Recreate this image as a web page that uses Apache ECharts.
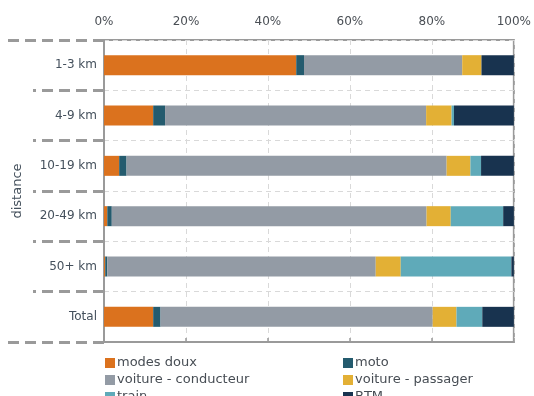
<!DOCTYPE html>
<html>
<head>
<meta charset="utf-8">
<script src="https://cdn.jsdelivr.net/npm/echarts@6/dist/echarts.min.js"></script>
<style>
  html, body { margin: 0; padding: 0; background: #fff; }
  #chart { width: 534px; height: 396px; }
</style>
</head>
<body>
<div id="chart"></div>
<script>
const categories = ['1-3 km', '4-9 km', '10-19 km', '20-49 km', '50+ km', 'Total'];
const modesDoux = [46.9, 12.0, 3.7, 0.8, 0.3, 12.0];
const moto = [1.9, 2.9, 1.8, 1.1, 0.5, 1.8];
const voitureConducteur = [38.6, 63.7, 78.1, 76.8, 65.5, 66.4];
const voiturePassager = [4.7, 6.2, 5.8, 5.9, 6.1, 5.8];
const train = [0, 0.6, 2.6, 12.8, 27.0, 6.3];
const btm = [7.9, 14.6, 8.0, 2.6, 0.6, 7.7];
const xTicks = [0, 20, 40, 60, 80, 100];

const font = 'DejaVu Sans';
const labelColor = '#44505c';
const axisGray = '#9a9a9a';

const mkSeries = (name, data, color) => ({
  type: 'bar',
  name: name,
  stack: 'total',
  data: data,
  barWidth: 20,
  itemStyle: { color: color },
  emphasis: { disabled: true }
});

const mkLegend = (left, names) => ({
  orient: 'vertical',
  left: left,
  top: 351,
  height: 80,
  itemWidth: 10,
  itemHeight: 10,
  itemGap: 3,
  icon: 'rect',
  textStyle: { fontFamily: font, fontSize: 13, color: '#474d54', lineHeight: 14, padding: [0, 0, 0, -3] },
  data: names
});

const chart = echarts.init(document.getElementById('chart'));
chart.setOption({
  animation: false,
  grid: {
    left: 104,
    right: 19,
    top: 40,
    bottom: 54,
    show: true,
    borderColor: axisGray,
    borderWidth: 2
  },
  legend: [
    mkLegend(100, ['modes doux', 'voiture - conducteur', 'train']),
    mkLegend(338, ['moto', 'voiture - passager', 'BTM'])
  ],
  xAxis: {
    type: 'value',
    position: 'top',
    min: xTicks[0],
    max: xTicks[xTicks.length - 1],
    interval: 20,
    axisLine: { show: true, lineStyle: { color: axisGray, width: 2 } },
    axisTick: { show: true, length: 4, lineStyle: { color: axisGray, width: 1.5 } },
    axisLabel: {
      margin: 12,
      fontFamily: font,
      fontSize: 12,
      color: '#4a4f55',
      formatter: '{value}%'
    },
    splitLine: { show: true, lineStyle: { type: [5, 4], color: '#d9d9d9', width: 1 } }
  },
  yAxis: [{
    type: 'category',
    inverse: true,
    data: categories,
    name: 'distance',
    nameLocation: 'middle',
    nameGap: 80,
    nameTextStyle: { fontFamily: font, fontSize: 13, color: labelColor },
    axisLine: { show: true, lineStyle: { color: axisGray, width: 2 } },
    axisTick: { show: true, length: 71, lineStyle: { color: axisGray, width: 3, type: [11, 6] } },
    axisLabel: { margin: 7, fontFamily: font, fontSize: 12, color: labelColor },
    splitLine: { show: true, lineStyle: { type: [5, 4], color: '#d9d9d9', width: 1 } }
  }, {
    type: 'value',
    position: 'left',
    min: 0,
    max: 1,
    interval: 1,
    axisLine: { show: false },
    axisTick: { show: true, length: 97, lineStyle: { color: axisGray, width: 3, type: [11, 6] } },
    axisLabel: { show: false },
    splitLine: { show: false }
  }],
  series: [
    mkSeries('modes doux', modesDoux, '#db721e'),
    mkSeries('moto', moto, '#245b6e'),
    mkSeries('voiture - conducteur', voitureConducteur, '#939ba5'),
    mkSeries('voiture - passager', voiturePassager, '#e3b035'),
    mkSeries('train', train, '#5faab9'),
    mkSeries('BTM', btm, '#18334f')
  ]
});
</script>
</body>
</html>
